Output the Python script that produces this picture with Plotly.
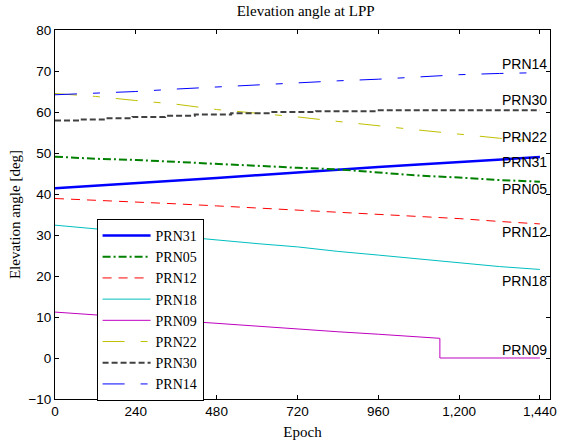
import plotly.graph_objects as go

# Epoch grid used for the smoothly varying satellites
epochs = [0, 120, 240, 360, 480, 600, 720, 840, 960, 1080, 1200, 1320, 1440]

prn31 = [41.4, 42.0, 42.6, 43.2, 43.9, 44.6, 45.3, 45.9, 46.6, 47.2, 47.8, 48.4, 49.0]
prn05 = [49.1, 48.6, 48.3, 47.8, 47.3, 46.8, 46.4, 46.0, 45.3, 44.5, 44.0, 43.4, 43.0]
prn12 = [38.9, 38.5, 38.1, 37.6, 37.1, 36.6, 36.0, 35.6, 35.1, 34.6, 34.0, 33.3, 32.7]
prn18 = [32.4, 31.5, 30.6, 29.6, 28.7, 27.9, 27.1, 26.0, 25.1, 24.2, 23.3, 22.3, 21.6]
prn22 = [64.5, 63.8, 62.8, 61.9, 60.6, 59.7, 58.8, 57.7, 56.6, 55.6, 54.6, 53.6, 52.9]
prn14 = [64.2, 64.6, 65.0, 65.6, 66.1, 66.6, 67.2, 67.6, 68.0, 68.5, 69.1, 69.4, 69.6]

# PRN09 sets below the horizon near epoch 1143
epochs_09 = [0, 120, 240, 360, 480, 600, 720, 840, 960, 1080, 1143, 1143, 1440]
prn09 = [11.2, 10.5, 9.9, 9.2, 8.4, 7.7, 7.0, 6.4, 5.8, 5.1, 4.8, 0.0, 0.0]

# PRN30 changes in small discrete steps
epochs_30 = [0, 76, 151, 230, 327, 415, 523, 640, 775, 955, 1440]
prn30 = [57.9, 58.2, 58.5, 58.8, 59.1, 59.4, 59.7, 60.0, 60.2, 60.4, 60.4]

# End-of-track labels (epoch, elevation)
label_names = ["PRN14", "PRN30", "PRN22", "PRN31", "PRN05", "PRN12", "PRN18", "PRN09"]
label_y = [71.7, 63.0, 53.8, 47.7, 41.3, 30.7, 18.8, 1.9]
label_x = 1322

x_ticks = [0, 240, 480, 720, 960, 1200, 1440]

serif = "Liberation Serif"
sans = "Liberation Sans"
ink = "black"
sparse_dash = "22px,16px,7px,16px"

fig = go.Figure()
fig.add_trace(go.Scatter(x=epochs, y=prn31, name="PRN31", mode="lines",
                         line=dict(color="#0000FF", width=2.5)))
fig.add_trace(go.Scatter(x=epochs, y=prn05, name="PRN05", mode="lines",
                         line=dict(color="#008000", width=2, dash="8px,3px,2px,3px")))
fig.add_trace(go.Scatter(x=epochs, y=prn12, name="PRN12", mode="lines",
                         line=dict(color="#FF0000", width=1, dash="9px,7px")))
fig.add_trace(go.Scatter(x=epochs, y=prn18, name="PRN18", mode="lines",
                         line=dict(color="#00BFBF", width=1)))
fig.add_trace(go.Scatter(x=epochs_09, y=prn09, name="PRN09", mode="lines",
                         line=dict(color="#BF00BF", width=1)))
fig.add_trace(go.Scatter(x=epochs, y=prn22, name="PRN22", mode="lines",
                         line=dict(color="#BFBF00", width=1, dash=sparse_dash)))
fig.add_trace(go.Scatter(x=epochs_30, y=prn30, name="PRN30", mode="lines",
                         line=dict(color="#404040", width=2, dash="6px,3px", shape="hv")))
fig.add_trace(go.Scatter(x=epochs, y=prn14, name="PRN14", mode="lines",
                         line=dict(color="#0000FF", width=1, dash=sparse_dash)))

for name, yv in zip(label_names, label_y):
    fig.add_annotation(x=label_x, y=yv, text=name, xref="x", yref="y",
                       xanchor="left", yanchor="middle", showarrow=False,
                       font=dict(family=sans, size=14, color=ink))

axis_common = dict(showline=True, linecolor="black", linewidth=1, mirror="allticks",
                   ticks="inside", ticklen=4, tickcolor="black", showgrid=False,
                   zeroline=False, tickfont=dict(family=sans, size=13.5, color=ink))

fig.update_xaxes(range=[0, 1470], tickvals=x_ticks, tickformat=",d",
                 title=dict(text="Epoch", font=dict(family=serif, size=15, color=ink),
                            standoff=8),
                 **axis_common)
fig.update_yaxes(range=[-10, 80], dtick=10,
                 title=dict(text="Elevation angle [deg]",
                            font=dict(family=serif, size=15, color=ink), standoff=4),
                 **axis_common)

fig.update_layout(
    width=566, height=447,
    margin=dict(l=55, r=9, t=30, b=47),
    paper_bgcolor="white", plot_bgcolor="white",
    title=dict(text="Elevation angle at LPP", x=0.54, xanchor="center",
               y=1 - 11 / 447, yanchor="middle", yref="container",
               font=dict(family=serif, size=15, color=ink)),
    legend=dict(x=0.084, y=0.488, xanchor="left", yanchor="top",
                bgcolor="white", bordercolor="black", borderwidth=1,
                font=dict(family=serif, size=14, color=ink),
                tracegroupgap=0, itemwidth=48),
    showlegend=True,
)

fig.write_html("out.html")
